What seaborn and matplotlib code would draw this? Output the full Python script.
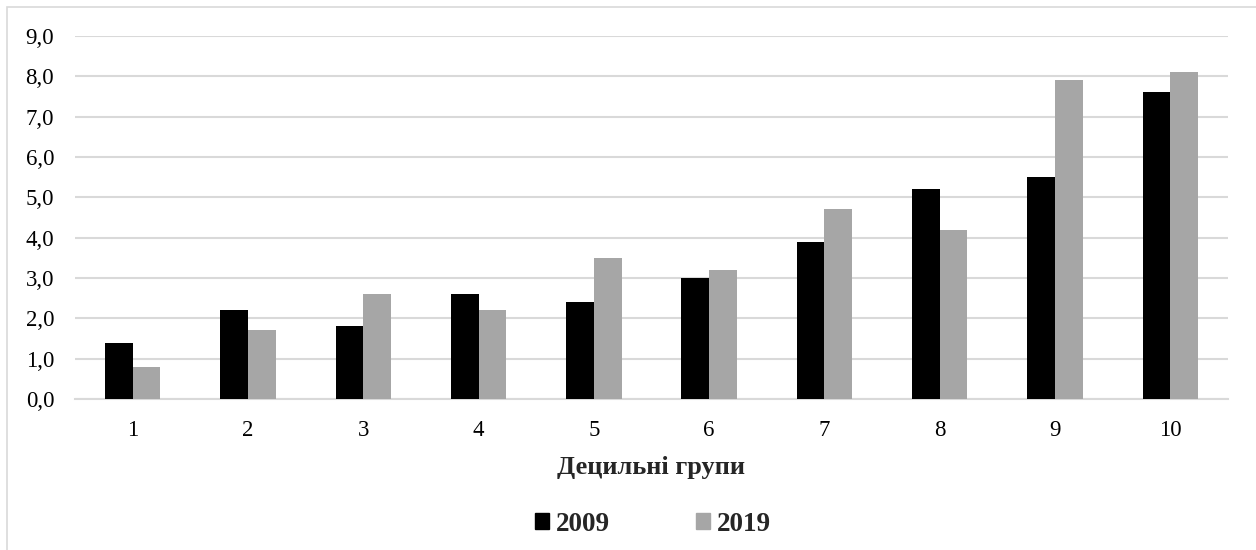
import pandas as pd
import matplotlib.pyplot as plt
import matplotlib.ticker as mticker
from matplotlib.patches import Rectangle
import seaborn as sns

## data
groups = ['1', '2', '3', '4', '5', '6', '7', '8', '9', '10']
years = ['2009', '2019']
values_2009 = [1.4, 2.2, 1.8, 2.6, 2.4, 3.0, 3.9, 5.2, 5.5, 7.6]
values_2019 = [0.8, 1.7, 2.6, 2.2, 3.5, 3.2, 4.7, 4.2, 7.9, 8.1]
xlabel_text = 'Децильні групи'

df = pd.DataFrame({
    'group': groups * 2,
    'year': [years[0]] * len(groups) + [years[1]] * len(groups),
    'value': values_2009 + values_2019,
})

sns.set_theme(style='white')
plt.rcParams['font.family'] = ['Liberation Serif', 'DejaVu Serif']

fig = plt.figure(figsize=(12.56, 5.5), dpi=100)
ax = fig.add_axes([0.0597, 0.2745, 0.918, 0.66])

sns.barplot(data=df, x='group', y='value', hue='year', order=groups,
            hue_order=years, palette=['#000000', '#A6A6A6'], width=0.48,
            edgecolor='none', linewidth=0, ax=ax, legend=False, zorder=3)

## gridlines and axis formatting
ax.set_ylim(0, 9)
ax.set_yticks([i for i in range(10)])
ax.yaxis.set_major_formatter(mticker.FuncFormatter(lambda v, p: f'{v:.1f}'.replace('.', ',')))
ax.yaxis.grid(True, color='#D9D9D9', linewidth=1.5, zorder=0)
ax.set_axisbelow(True)
for s in ['top', 'right', 'left']:
    ax.spines[s].set_visible(False)
ax.spines['bottom'].set_color('#D9D9D9')
ax.spines['bottom'].set_linewidth(1.5)
ax.tick_params(axis='both', length=0, labelsize=16.5, colors='#000000')
ax.tick_params(axis='y', pad=15)
ax.tick_params(axis='x', pad=15)
ax.set_ylabel('')
ax.set_xlabel(xlabel_text, fontsize=19, fontweight='bold', labelpad=11)

## legend
handles = [Rectangle((0, 0), 1, 1, color='#000000'), Rectangle((0, 0), 1, 1, color='#A6A6A6')]
leg = fig.legend(handles, years, loc='center', bbox_to_anchor=(0.52, 0.047), ncol=2,
                 frameon=False, prop={'size': 19.5, 'weight': 'bold'},
                 handlelength=0.5, handleheight=0.5, handletextpad=0.25, columnspacing=3.2)

## light frame around the chart
fig.patches.append(Rectangle((7 / 1256, -0.1), 1.2, 1 - 7 / 550 + 0.1, transform=fig.transFigure,
                             fill=False, edgecolor='#D9D9D9', linewidth=1.2))

fig.savefig('out.png', dpi=100, facecolor='white')
